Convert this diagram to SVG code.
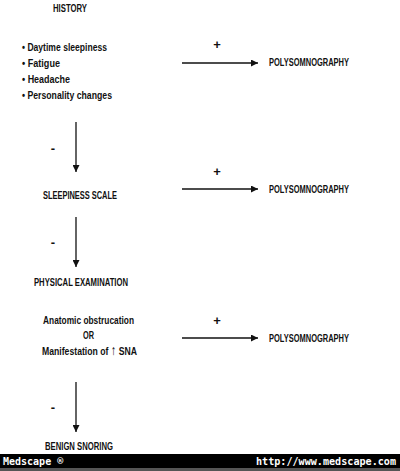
<svg xmlns="http://www.w3.org/2000/svg" width="400" height="471" viewBox="0 0 400 471">
<style>
text{font-family:"Liberation Sans",Arial,sans-serif;font-weight:bold;font-size:11px;fill:#111}
.c{text-anchor:middle;font-size:13px}
.ln{stroke:#111;stroke-width:1.3;fill:none}
.ft{fill:#fff;font-family:"DejaVu Sans Mono","Liberation Mono",monospace;font-size:10px;font-weight:bold}
</style>
<defs>
<marker id="ah" viewBox="0 0 10 10" refX="10" refY="5" markerWidth="7" markerHeight="7" markerUnits="userSpaceOnUse" orient="auto">
<path d="M0,0 L10,5 L0,10 z" fill="#111"/>
</marker>
</defs>
<rect width="400" height="471" fill="#fff"/>
<g id="history"><text x="53" y="12" textLength="34" lengthAdjust="spacingAndGlyphs">HISTORY</text></g>
<g id="symptoms">
<text x="22" y="51" textLength="85" lengthAdjust="spacingAndGlyphs">• Daytime sleepiness</text>
<text x="22" y="67" textLength="38" lengthAdjust="spacingAndGlyphs">• Fatigue</text>
<text x="22" y="83" textLength="48" lengthAdjust="spacingAndGlyphs">• Headache</text>
<text x="22" y="99" textLength="90" lengthAdjust="spacingAndGlyphs">• Personality changes</text>
</g>
<g id="poly1"><text x="269" y="66" textLength="80" lengthAdjust="spacingAndGlyphs">POLYSOMNOGRAPHY</text></g>
<g id="sleepiness"><text x="43" y="199" textLength="74" lengthAdjust="spacingAndGlyphs">SLEEPINESS SCALE</text></g>
<g id="poly2"><text x="269" y="193" textLength="80" lengthAdjust="spacingAndGlyphs">POLYSOMNOGRAPHY</text></g>
<g id="physical"><text x="34" y="286" textLength="94" lengthAdjust="spacingAndGlyphs">PHYSICAL EXAMINATION</text></g>
<g id="anatomic">
<text x="43" y="324" textLength="91" lengthAdjust="spacingAndGlyphs">Anatomic obstrucation</text>
<text x="83" y="339" textLength="11" lengthAdjust="spacingAndGlyphs">OR</text>
<text x="42" y="355" textLength="95" lengthAdjust="spacingAndGlyphs">Manifestation of <tspan font-size="14" font-weight="normal">↑</tspan> SNA</text>
</g>
<g id="poly3"><text x="269" y="342" textLength="80" lengthAdjust="spacingAndGlyphs">POLYSOMNOGRAPHY</text></g>
<g id="benign"><text x="45" y="450" textLength="68" lengthAdjust="spacingAndGlyphs">BENIGN SNORING</text></g>
<g id="connectors">
<line class="ln" x1="182" y1="63" x2="258" y2="63" marker-end="url(#ah)"/>
<line class="ln" x1="182" y1="189" x2="258" y2="189" marker-end="url(#ah)"/>
<line class="ln" x1="182" y1="338" x2="258" y2="338" marker-end="url(#ah)"/>
<line class="ln" x1="76" y1="122" x2="76" y2="172" marker-end="url(#ah)"/>
<line class="ln" x1="76" y1="217" x2="76" y2="267" marker-end="url(#ah)"/>
<line class="ln" x1="76" y1="382" x2="76" y2="432" marker-end="url(#ah)"/>
<text class="c" x="217" y="49">+</text>
<text class="c" x="217" y="176">+</text>
<text class="c" x="217" y="325">+</text>
<text class="c" x="53" y="153">-</text>
<text class="c" x="53" y="247">-</text>
<text class="c" x="53" y="412">-</text>
</g>
<g id="footer">
<rect x="0" y="454" width="400" height="14" fill="#000"/>
<rect x="0" y="468" width="400" height="3" fill="#555"/>
<text class="ft" x="3" y="465">Medscape ®</text>
<text class="ft" x="396" y="465" text-anchor="end" textLength="140" lengthAdjust="spacingAndGlyphs">http://www.medscape.com</text>
</g>
</svg>
